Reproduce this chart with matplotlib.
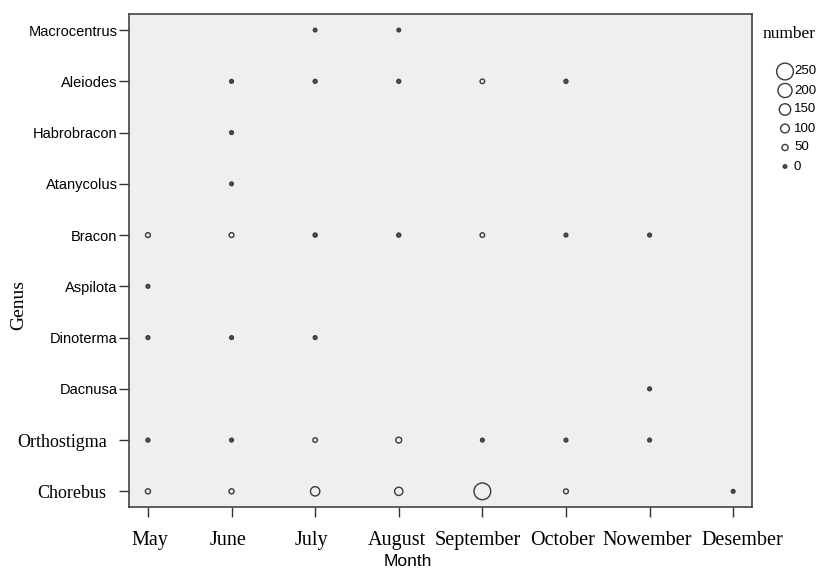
import matplotlib.pyplot as plt
from matplotlib.transforms import ScaledTranslation

months = ["May", "June", "July", "August", "September", "October", "Nowember", "Desember"]
genera = ["Chorebus", "Orthostigma", "Dacnusa", "Dinoterma", "Aspilota",
          "Bracon", "Atanycolus", "Habrobracon", "Aleiodes", "Macrocentrus"]

# (genus, month, number)
rec_genus = ["Macrocentrus", "Macrocentrus",
             "Aleiodes", "Aleiodes", "Aleiodes", "Aleiodes", "Aleiodes",
             "Habrobracon", "Atanycolus",
             "Bracon", "Bracon", "Bracon", "Bracon", "Bracon", "Bracon", "Bracon",
             "Aspilota",
             "Dinoterma", "Dinoterma", "Dinoterma",
             "Dacnusa",
             "Orthostigma", "Orthostigma", "Orthostigma", "Orthostigma", "Orthostigma", "Orthostigma", "Orthostigma",
             "Chorebus", "Chorebus", "Chorebus", "Chorebus", "Chorebus", "Chorebus", "Chorebus"]
rec_month = ["July", "August",
             "June", "July", "August", "September", "October",
             "June", "June",
             "May", "June", "July", "August", "September", "October", "Nowember",
             "May",
             "May", "June", "July",
             "Nowember",
             "May", "June", "July", "August", "September", "October", "Nowember",
             "May", "June", "July", "August", "September", "October", "Desember"]
rec_number = [2, 2,
              5, 8, 8, 20, 10,
              5, 3,
              25, 25, 12, 10, 20, 5, 5,
              5,
              5, 5, 5,
              5,
              8, 5, 20, 45, 5, 5, 5,
              30, 30, 110, 90, 250, 25, 3]

legend_values = [250, 200, 150, 100, 50, 0]

EDGE = "#3a3a3a"


def marker_size(v):
    # diameter in points, grows linearly with the count
    d = (3.5 + v * 0.053) * 0.72
    return d * d


def marker_face(v):
    # the smallest circles read as solid dots
    return "#555555" if v < 15 else "none"


fig = plt.figure(figsize=(8.25, 5.68), dpi=100)
ax = fig.add_axes([0.156, 0.107, 0.756, 0.868])
ax.set_facecolor("#efefef")

xs = [months.index(m) for m in rec_month]
ys = [genera.index(g) for g in rec_genus]
ax.scatter(xs, ys, s=[marker_size(v) for v in rec_number],
           facecolors=[marker_face(v) for v in rec_number],
           edgecolors=EDGE, linewidths=1.0, zorder=3)

ax.set_xlim(-0.23, len(months) - 1 + 0.23)
ax.set_ylim(-0.31, len(genera) - 1 + 0.31)

for sp in ax.spines.values():
    sp.set_color("#444444")
    sp.set_linewidth(1.2)

ax.set_xticks(range(len(months)))
ax.set_xticklabels(months, family="Liberation Serif", fontsize=14.5)
ax.set_yticks(range(len(genera)))
ax.set_yticklabels(genera)

ax.tick_params(axis="y", length=7, width=1, color="#333333", pad=1)
ax.tick_params(axis="x", length=7, width=1, color="#333333", pad=10)

# the serif genus labels sit a little further from their ticks
for lab in ax.get_yticklabels():
    if lab.get_text() in ("Chorebus", "Orthostigma"):
        lab.set_family("Liberation Serif")
        lab.set_fontsize(13)
        lab.set_transform(lab.get_transform() + ScaledTranslation(-0.11, 0, fig.dpi_scale_trans))
    else:
        lab.set_family("Liberation Sans")
        lab.set_fontsize(10.5)

# month labels are not exactly centred under their ticks in the original
x_nudge = [2, -3, -4, -2, -5, -3, -2, 9]
for lab, dx in zip(ax.get_xticklabels(), x_nudge):
    lab.set_transform(lab.get_transform() + ScaledTranslation(dx / 100, 0, fig.dpi_scale_trans))

ax.set_xlabel("Month", family="Liberation Sans", fontsize=12.5)
ax.xaxis.set_label_coords(0.447, -0.094)
ax.set_ylabel("Genus", family="Liberation Serif", fontsize=14)
ax.yaxis.set_label_coords(-0.162, 0.41)

# size legend
fig.text(763 / 825, 1 - 34 / 568, "number", family="Liberation Serif", fontsize=12.5,
         ha="left", va="center")
lax = fig.add_axes([770 / 825, 1 - 176 / 568, 55 / 825, 114 / 568])
lax.set_xlim(0, 55)
lax.set_ylim(len(legend_values) - 0.5, -0.5)
lax.axis("off")
lax.scatter([15] * len(legend_values), range(len(legend_values)),
            s=[marker_size(v) for v in legend_values],
            facecolors=[marker_face(v) for v in legend_values],
            edgecolors=EDGE, linewidths=1.0)
for i, v in enumerate(legend_values):
    lax.text(24, i, str(v), family="Liberation Sans", fontsize=9.5, va="center", ha="left")

fig.savefig("out.png", dpi=100)
